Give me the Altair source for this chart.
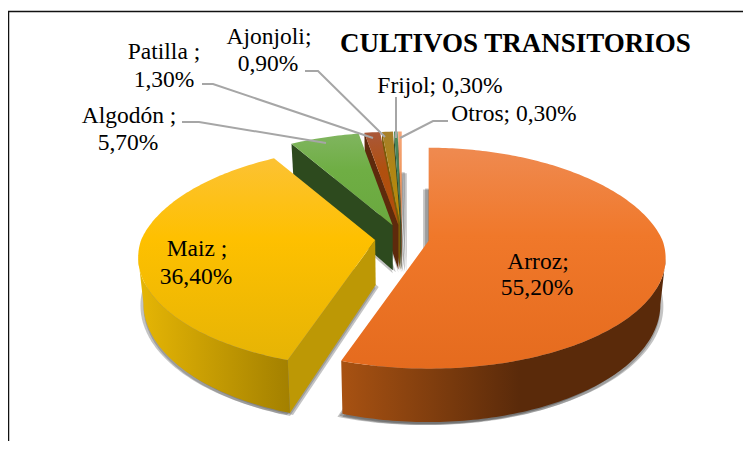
import math
import altair as alt
import pandas as pd

TITLE = "CULTIVOS TRANSITORIOS"
categories = ["Arroz", "Maiz", "Algodón", "Patilla", "Ajonjoli", "Frijol", "Otros"]
values = [55.2, 36.4, 5.7, 1.3, 0.9, 0.3, 0.3]
top_colors = [("#ef8a50", "#f0782a", "#e56b1e"), ("#fcc233", "#fec000", "#e6b405"), ("#80b55f", "#6fae44", "#6aa83f"),
              ("#a9583a", "#b0500f", "#b34c0c"), ("#a67f2a", "#b08515", "#bf8d00"), ("#4f8a5a", "#45805a", "#3f7a4a"),
              ("#f6a77a", "#f09860", "#ee8a50")]
rim_colors = [("#a85212", "#5a2a0a"), ("#e6b605", "#a38000"), ("#2d4a1e", "#2d4a1e"),
              ("#5e2a0c", "#5e2a0c"), ("#7a5a08", "#7a5a08"), ("#2d4a2e", "#2d4a2e"),
              ("#8a4415", "#8a4415")]
wall_colors = ["#5c2c0a", "#bd9805", "#2d4a1e", "#5e2a0c", "#7a5a08", "#2d4a2e", "#8a4415"]
shadow_offsets = [
    [(-5, 3), (-3, 2), (3, 2), (0, 3)],
    [(-3, 2), (3, 2), (0, 3)],
    [(3, 2), (0, 3)],
    [(5, 3), (3, 2), (0, 3)],
    [(5, 3), (3, 2), (0, 3)],
    [(5, 3), (3, 2), (0, 3)],
    [(5, 3), (3, 2), (0, 3)],
]

labels = ["Arroz;", "55,20%", "Maiz ;", "36,40%", "Algodón ;", "5,70%", "Patilla ;", "1,30%",
          "Ajonjoli;", "0,90%", "Frijol; 0,30%", "Otros; 0,30%"]
label_x = [538, 537, 197, 196, 129, 128, 164, 164, 269, 268, 440, 514]
label_y = [262, 288, 249, 277, 116, 143, 52, 80, 37, 64, 86, 114]

leaders = [
    [(182, 122), (199, 122), (326, 143)],
    [(202, 84), (213, 84), (373, 138)],
    [(305, 71), (318, 71), (385, 137)],
    [(396, 97), (396, 138)],
    [(448, 121), (433, 121), (400, 138)],
]

W, H = 735, 433
CX, CY, RX, RY, K, DEPTH, EXPLODE = 402, 238.5, 234, 107.7, 0.158, 45, 27
total = sum(values)


def persp(a):
    s = 1 / (1 + K * math.cos(a))
    sx = s * (1 - 0.04 * max(0, math.cos(a)))
    return RX * math.sin(a) * sx, RY * (-math.cos(a)) * s, s


def lower(x, y, s):
    return CX + (x - CX) * 0.98, y + DEPTH * s


xs = alt.X("x:Q", scale=alt.Scale(domain=[8, 743]), axis=None)
ys = alt.Y("y:Q", scale=alt.Scale(domain=[441, 8]), axis=None)


def poly(pts, fill):
    df = pd.DataFrame({"x": [p[0] for p in pts], "y": [p[1] for p in pts], "i": range(len(pts))})
    return alt.Chart(df).mark_line(fill=fill, stroke="transparent", strokeWidth=0,
                                   interpolate="linear-closed").encode(x=xs, y=ys, order="i:Q")


def vgrad(a, m, b):
    return alt.Gradient(gradient="linear", x1=0, x2=0, y1=0, y2=1,
                        stops=[alt.GradientStop(color=a, offset=0), alt.GradientStop(color=m, offset=0.4),
                               alt.GradientStop(color=b, offset=1)])


def hgrad(a, b, end=1):
    return alt.Gradient(gradient="linear", x1=0, x2=1, y1=0, y2=0,
                        stops=[alt.GradientStop(color=a, offset=0), alt.GradientStop(color=b, offset=end)])


slices = []
cum = 0.0
for n, val in zip(categories, values):
    a0 = cum / total * 2 * math.pi
    cum += val
    a1 = cum / total * 2 * math.pi
    mid = (a0 + a1) / 2
    ax = CX + EXPLODE * math.sin(mid)
    ay = CY - 25 * math.cos(mid) * 0.56
    steps = max(2, int((a1 - a0) * 180 / math.pi))
    arc = []
    for j in range(steps + 1):
        a = a0 + (a1 - a0) * j / steps
        dx, dy, s = persp(a)
        arc.append((ax + dx, ay + dy, s))
    slices.append((ax, ay, arc))

shadow_rows = []
gid = 0
for (ax, ay, arc), offs in zip(slices, shadow_offsets):
    base = [lower(ax, ay, 1)] + [lower(*p) for p in arc]
    for off in offs:
        for i, p in enumerate(base):
            shadow_rows.append({"x": p[0] + off[0], "y": p[1] + off[1], "i": i, "g": gid})
        gid += 1
shadow = alt.Chart(pd.DataFrame(shadow_rows)).mark_line(
    fill="#555555", stroke="transparent", strokeWidth=0, fillOpacity=0.35, interpolate="linear-closed"
).encode(x=xs, y=ys, order="i:Q", detail="g:N")

layers = [shadow]
order = [6, 5, 4, 3, 2, 1, 0]
for idx in order:
    ax, ay, arc = slices[idx]
    apex = (ax, ay, 1)
    for A, B in [(apex, arc[0]), (arc[-1], apex)]:
        if A[0] > B[0]:
            q = [A[:2], B[:2], lower(*B), lower(*A)]
            layers.append(poly(q, wall_colors[idx]))
    run = [arc[j] for j in range(len(arc))
           if (j + 1 < len(arc) and arc[j][0] > arc[j + 1][0]) or (j > 0 and arc[j - 1][0] > arc[j][0])]
    if len(run) > 1:
        q = [p[:2] for p in run] + [lower(*p) for p in reversed(run)]
        layers.append(poly(q, hgrad(rim_colors[idx][0], rim_colors[idx][1], 0.55 if idx == 0 else 1)))
    top = [apex[:2]] + [p[:2] for p in arc]
    layers.append(poly(top, vgrad(*top_colors[idx])))

lead_rows = []
for g, pts in enumerate(leaders):
    for i, p in enumerate(pts):
        lead_rows.append({"x": p[0], "y": p[1], "i": i, "g": g})
lead = alt.Chart(pd.DataFrame(lead_rows)).mark_line(color="#a6a6a6", strokeWidth=2).encode(
    x=xs, y=ys, order="i:Q", detail="g:N")
layers.append(lead)

text = alt.Chart(pd.DataFrame({"x": label_x, "y": label_y, "t": labels})).mark_text(
    font="Liberation Serif", fontSize=23.5, color="#000000", align="center", baseline="middle"
).encode(x=xs, y=ys, text="t:N")
layers.append(text)

title = alt.Chart(pd.DataFrame({"x": [340], "y": [44], "t": [TITLE]})).mark_text(
    font="Liberation Serif", fontSize=27, fontWeight="bold", color="#000000", align="left", baseline="middle"
).encode(x=xs, y=ys, text="t:N")
layers.append(title)

frame_top = alt.Chart(pd.DataFrame({"x": [8, 743], "y": [11.5, 11.5]})).mark_line(
    color="#111111", strokeWidth=1.5).encode(x=xs, y=ys)
frame_left = alt.Chart(pd.DataFrame({"x": [8.5, 8.5], "y": [11, 441]})).mark_line(
    color="#111111", strokeWidth=1.5).encode(x=xs, y=ys)
layers += [frame_top, frame_left]

chart = alt.layer(*layers).properties(
    width=W, height=H, padding=0, autosize=alt.AutoSizeParams(type="none"), background="white"
).configure_view(stroke=None)

chart.save("out.html", embed_options={"renderer": "svg", "actions": False})
